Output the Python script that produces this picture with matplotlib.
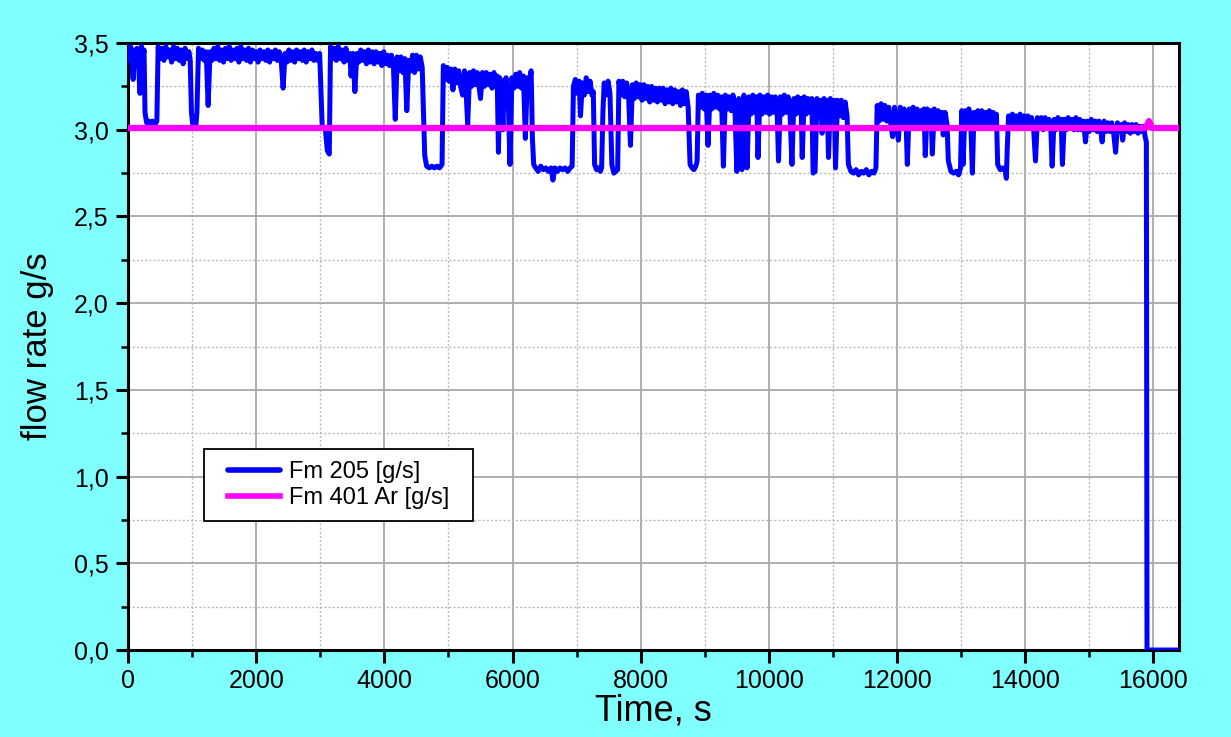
import matplotlib
matplotlib.use('Agg')
import matplotlib.pyplot as plt
from matplotlib.patches import Rectangle
from matplotlib.ticker import MultipleLocator, FuncFormatter

plt.rcParams['font.family'] = ['Liberation Sans', 'DejaVu Sans']

# Fm 205 mass flow, (time s, flow g/s), one list per stretch of the run
fm205_a = [
    (0, 3.45), (20, 3.40), (40, 3.48), (60, 3.38), (80, 3.29), (100, 3.46),
    (120, 3.39), (140, 3.47), (160, 3.40), (187, 3.21), (210, 3.48), (230, 3.41),
    (250, 3.46), (265, 3.10), (290, 3.04), (320, 3.05), (350, 3.03), (380, 3.05),
    (420, 3.03), (450, 3.05),
    (470, 3.48), (500, 3.41), (530, 3.47), (560, 3.40), (590, 3.48), (620, 3.42),
    (650, 3.46), (680, 3.39), (710, 3.48), (740, 3.41), (770, 3.47), (800, 3.40),
    (830, 3.46), (860, 3.38), (890, 3.47), (920, 3.41), (950, 3.45), (970, 3.40),
    (990, 3.10), (1010, 3.03), (1060, 3.03), (1075, 3.10),
    (1100, 3.47), (1130, 3.41), (1160, 3.46), (1190, 3.40), (1220, 3.45), (1250, 3.14),
    (1280, 3.45), (1310, 3.40), (1340, 3.47), (1370, 3.41), (1400, 3.48), (1430, 3.40),
    (1460, 3.46), (1490, 3.39), (1520, 3.47), (1550, 3.41), (1580, 3.48), (1610, 3.40),
    (1640, 3.46), (1670, 3.41), (1700, 3.47), (1730, 3.39), (1760, 3.48), (1790, 3.41),
    (1820, 3.46), (1850, 3.40), (1880, 3.47), (1910, 3.39), (1940, 3.46), (1970, 3.41),
    (2000, 3.45), (2030, 3.39), (2060, 3.46), (2090, 3.41), (2120, 3.45), (2150, 3.40),
    (2180, 3.46), (2210, 3.39), (2240, 3.45), (2270, 3.41), (2300, 3.46), (2330, 3.40),
    (2360, 3.45), (2390, 3.40), (2420, 3.24), (2450, 3.44), (2480, 3.39), (2510, 3.46),
    (2540, 3.40), (2570, 3.45), (2600, 3.39), (2630, 3.46), (2660, 3.41), (2690, 3.45),
    (2720, 3.40), (2750, 3.46), (2780, 3.39), (2810, 3.45), (2840, 3.41), (2870, 3.46),
    (2900, 3.40), (2930, 3.44), (2960, 3.40), (2990, 3.44),
    (3030, 3.02), (3080, 3.00), (3110, 2.88), (3140, 2.86), (3160, 3.48),
    (3190, 3.41), (3220, 3.47), (3250, 3.40), (3280, 3.48), (3310, 3.41), (3340, 3.46),
    (3370, 3.39), (3400, 3.47), (3430, 3.40), (3460, 3.44), (3480, 3.31), (3510, 3.44),
    (3540, 3.22), (3570, 3.44), (3600, 3.39), (3630, 3.46), (3660, 3.40), (3690, 3.45),
    (3720, 3.38), (3750, 3.46), (3780, 3.39), (3810, 3.45), (3840, 3.38), (3870, 3.45),
    (3900, 3.39), (3930, 3.44), (3960, 3.37), (3990, 3.45), (4020, 3.38), (4050, 3.43),
    (4080, 3.37), (4110, 3.43), (4140, 3.38), (4170, 3.06), (4200, 3.42), (4230, 3.34),
    (4260, 3.42), (4290, 3.33), (4320, 3.41), (4350, 3.11), (4380, 3.40), (4410, 3.34),
    (4440, 3.43), (4470, 3.33), (4500, 3.43), (4530, 3.35), (4560, 3.42), (4590, 3.36),
    (4630, 2.85), (4660, 2.79), (4700, 2.78), (4740, 2.79), (4780, 2.78), (4820, 2.79),
    (4860, 2.78), (4900, 2.80),
]
fm205_b = [
    (4920, 3.37), (4950, 3.29), (4980, 3.36), (5010, 3.28), (5040, 3.35), (5070, 3.23),
    (5100, 3.35), (5130, 3.27), (5160, 3.34), (5190, 3.25), (5220, 3.20), (5250, 3.34),
    (5270, 3.26), (5300, 3.03), (5330, 3.33), (5360, 3.25), (5390, 3.34), (5420, 3.26),
    (5450, 3.33), (5480, 3.24), (5500, 3.18), (5530, 3.33), (5560, 3.25), (5590, 3.33),
    (5620, 3.26), (5650, 3.32), (5680, 3.24), (5710, 3.33), (5740, 3.25), (5760, 3.31),
    (5780, 2.87), (5800, 3.30), (5830, 3.24), (5850, 3.00), (5870, 3.28), (5900, 3.30),
    (5930, 3.22), (5960, 2.80), (5990, 3.30), (6020, 3.24), (6050, 3.32), (6080, 3.25),
    (6110, 3.33), (6140, 3.24), (6170, 3.31), (6200, 2.95), (6230, 3.30), (6260, 3.26),
    (6290, 3.34), (6310, 2.95), (6330, 2.80),
    (6360, 2.78), (6400, 2.76), (6440, 2.79), (6480, 2.77), (6520, 2.78), (6560, 2.76),
    (6600, 2.78), (6630, 2.71), (6660, 2.78), (6700, 2.76), (6740, 2.78), (6780, 2.77),
    (6820, 2.78), (6860, 2.76), (6900, 2.78), (6930, 2.79),
    (6950, 3.25), (6980, 3.29), (7010, 3.21), (7040, 3.28), (7060, 3.08), (7090, 3.27),
    (7120, 3.20), (7150, 3.30), (7180, 3.22), (7210, 3.28), (7240, 3.20), (7260, 3.22),
    (7280, 2.80), (7310, 2.77), (7340, 2.78), (7370, 2.76), (7390, 2.78), (7410, 3.10),
    (7430, 3.27), (7460, 3.20), (7490, 3.28), (7520, 3.21), (7550, 2.80), (7580, 2.75),
    (7610, 2.76), (7640, 2.77), (7660, 3.28),
]
fm205_c = [
    (7690, 3.20), (7720, 3.28), (7750, 3.19), (7780, 3.27), (7810, 3.20), (7840, 2.91),
    (7870, 3.26), (7900, 3.18), (7930, 3.27), (7960, 3.19), (7990, 3.26), (8020, 3.17),
    (8050, 3.26), (8080, 3.18), (8110, 3.25), (8140, 3.16), (8170, 3.25), (8200, 3.17),
    (8230, 3.24), (8260, 3.16), (8290, 3.24), (8320, 3.17), (8350, 3.24), (8380, 3.15),
    (8410, 3.23), (8440, 3.16), (8470, 3.24), (8500, 3.15), (8530, 3.23), (8560, 3.16),
    (8590, 3.22), (8620, 3.14), (8650, 3.23), (8680, 3.15), (8710, 3.22), (8740, 3.13),
    (8770, 2.80), (8800, 2.78), (8830, 2.77), (8860, 2.79), (8880, 2.82), (8900, 3.20),
    (8930, 3.13), (8960, 3.21), (8990, 3.12), (9020, 3.20), (9050, 2.91), (9080, 3.20),
    (9110, 3.12), (9140, 3.21), (9170, 3.13), (9200, 3.20), (9230, 3.12), (9260, 3.19),
    (9290, 2.79), (9320, 3.20), (9350, 3.12), (9380, 3.19), (9410, 3.11), (9440, 3.20),
    (9470, 3.12), (9500, 2.76), (9530, 3.18), (9560, 3.10), (9580, 2.77), (9610, 3.20),
    (9640, 3.10), (9660, 2.78), (9690, 3.19), (9720, 3.09), (9750, 3.20), (9780, 3.10),
    (9810, 3.19), (9830, 2.84), (9860, 3.20), (9890, 3.09), (9920, 3.19), (9950, 3.10),
    (9980, 3.20), (10010, 3.09), (10040, 3.19), (10070, 3.10), (10100, 3.19), (10130, 3.09),
    (10150, 2.82), (10180, 3.19), (10210, 3.09), (10240, 3.20), (10270, 3.10), (10300, 3.19),
    (10330, 3.09), (10360, 2.80), (10390, 3.18), (10420, 3.09), (10450, 3.19), (10480, 3.10),
    (10500, 3.18), (10520, 2.84), (10550, 3.19), (10580, 3.09), (10610, 3.18), (10640, 3.10),
    (10670, 3.18), (10690, 2.75), (10720, 2.76), (10750, 3.18), (10780, 3.09), (10810, 3.17),
    (10830, 2.98), (10860, 3.18), (10890, 3.08), (10910, 3.17), (10930, 2.84), (10960, 3.18),
    (10990, 3.08), (11020, 3.17), (11040, 2.78), (11070, 3.17), (11100, 3.08), (11130, 3.17),
    (11160, 3.07), (11190, 3.16), (11220, 3.08), (11240, 2.80), (11280, 2.76), (11320, 2.75),
    (11360, 2.77), (11400, 2.74), (11440, 2.76), (11480, 2.75), (11520, 2.77), (11560, 2.74),
    (11600, 2.76), (11640, 2.75), (11670, 2.78), (11690, 3.14),
]
fm205_d = [
    (11720, 3.05), (11750, 3.15), (11780, 3.06), (11810, 3.14), (11840, 3.05), (11870, 3.13),
    (11900, 3.04), (11930, 2.96), (11960, 3.13), (11990, 3.05), (12020, 2.94), (12050, 3.13),
    (12080, 3.04), (12110, 3.12), (12140, 3.05), (12160, 2.80), (12190, 3.12), (12220, 3.04),
    (12250, 3.13), (12280, 3.03), (12310, 3.12), (12340, 3.04), (12370, 3.11), (12400, 3.03),
    (12420, 3.12), (12440, 2.85), (12470, 3.12), (12500, 3.04), (12530, 3.11), (12550, 2.86),
    (12580, 3.12), (12610, 3.03), (12640, 3.11), (12670, 3.04), (12700, 3.10), (12720, 2.97),
    (12750, 3.10), (12780, 3.03), (12800, 2.82), (12840, 2.76), (12880, 2.75), (12920, 2.76),
    (12960, 2.74), (12990, 2.78), (13010, 3.11), (13030, 2.80), (13060, 3.11), (13090, 3.03),
    (13120, 3.12), (13150, 3.04), (13175, 2.75), (13200, 3.10), (13230, 3.02), (13260, 3.11),
    (13290, 3.03), (13320, 3.11), (13350, 3.02), (13380, 3.10), (13410, 3.03), (13440, 3.11),
    (13470, 3.02), (13500, 3.10), (13530, 3.03), (13550, 3.09), (13570, 2.80), (13610, 2.77),
    (13650, 2.78), (13690, 2.76), (13705, 2.72), (13720, 2.90), (13740, 3.08),
    (13770, 3.01), (13800, 3.09), (13830, 3.02), (13860, 3.08), (13890, 3.01), (13920, 3.09),
    (13950, 3.02), (13980, 3.08), (14010, 3.01), (14040, 3.08), (14070, 3.02), (14100, 3.07),
    (14130, 3.01), (14160, 2.82), (14190, 3.07), (14220, 3.01), (14250, 3.07), (14280, 3.00),
    (14310, 3.07), (14340, 3.01), (14370, 3.06), (14400, 3.00), (14420, 2.79), (14450, 3.06),
    (14480, 3.00), (14510, 3.07), (14540, 3.01), (14560, 3.06), (14580, 2.80), (14610, 3.06),
    (14640, 3.00), (14670, 3.07), (14700, 3.01), (14730, 3.06), (14760, 3.00), (14790, 3.07),
    (14820, 3.00), (14850, 3.06), (14880, 3.00), (14910, 3.05), (14940, 2.93), (14970, 3.05),
    (15000, 2.99), (15030, 3.06), (15060, 3.00), (15090, 3.05), (15120, 2.99), (15150, 3.05),
    (15180, 2.99), (15200, 2.93), (15230, 3.05), (15260, 2.99), (15290, 3.04), (15320, 2.99),
    (15350, 3.04), (15380, 2.98), (15410, 2.87), (15440, 3.04), (15470, 2.99), (15500, 3.03),
    (15520, 2.94), (15550, 3.04), (15580, 2.99), (15610, 3.03), (15640, 2.98), (15670, 3.03),
    (15700, 2.99), (15730, 3.03), (15760, 2.98), (15790, 3.02), (15820, 2.99), (15850, 3.02),
    (15870, 2.96), (15890, 2.93), (15900, 0.0), (16400, 0.0),
]

# Fm 401 Ar, nearly constant
t_fm401 = [0, 15880, 15930, 15980, 16400]
fm401 = [3.01, 3.01, 3.05, 3.01, 3.01]

fm205 = fm205_a + fm205_b + fm205_c + fm205_d
t205 = [p[0] for p in fm205]
v205 = [p[1] for p in fm205]

fig = plt.figure(figsize=(12.31, 7.37), dpi=100, facecolor='#80FFFF')
ax = fig.add_axes([0.104, 0.118, 0.8538, 0.8236])

ax.plot(t205, v205, color='#0000FF', lw=3.6, solid_joinstyle='round',
        solid_capstyle='round', label='Fm 205 [g/s]', zorder=3)
ax.plot(t_fm401, fm401, color='#FF00FF', lw=4.5, label='Fm 401 Ar [g/s]', zorder=4)

ax.set_xlim(0, 16400)
ax.set_ylim(0, 3.5)
ax.xaxis.set_major_locator(MultipleLocator(2000))
ax.xaxis.set_minor_locator(MultipleLocator(1000))
ax.yaxis.set_major_locator(MultipleLocator(0.5))
ax.yaxis.set_minor_locator(MultipleLocator(0.25))
ax.yaxis.set_major_formatter(FuncFormatter(lambda v, p: ('%.1f' % v).replace('.', ',')))

ax.grid(which='major', color='#a8a8a8', lw=1.3, ls='-', zorder=0)
ax.grid(which='minor', color='#b8b8b8', lw=1.0, ls=(0, (1.5, 1.5)), zorder=0)
ax.set_axisbelow(True)

for s in ax.spines.values():
    s.set_linewidth(2.2)
ax.tick_params(which='major', direction='out', length=9, width=2.2, labelsize=18, pad=5)
ax.tick_params(which='minor', direction='out', length=5, width=1.8)
ax.tick_params(top=False, right=False, which='both')

ax.set_xlabel('Time, s', fontsize=26, labelpad=0)
ax.set_ylabel('flow rate g/s', fontsize=25, labelpad=14)

# legend box drawn separately so its padding can be set per side
ax.add_patch(Rectangle((0.0723, 0.2125), 0.256, 0.1186, transform=ax.transAxes,
                       facecolor='white', edgecolor='black', lw=1.3, zorder=5))
leg = ax.legend(loc='center left', bbox_to_anchor=(0.0951, 0.2718), borderaxespad=0,
                fontsize=17, handlelength=2.2, handletextpad=0.4, labelspacing=0.15,
                borderpad=0, frameon=False)
leg.set_zorder(6)
for h in leg.get_lines():
    h.set_linewidth(4)

fig.savefig('out.png', dpi=100, facecolor=fig.get_facecolor())
